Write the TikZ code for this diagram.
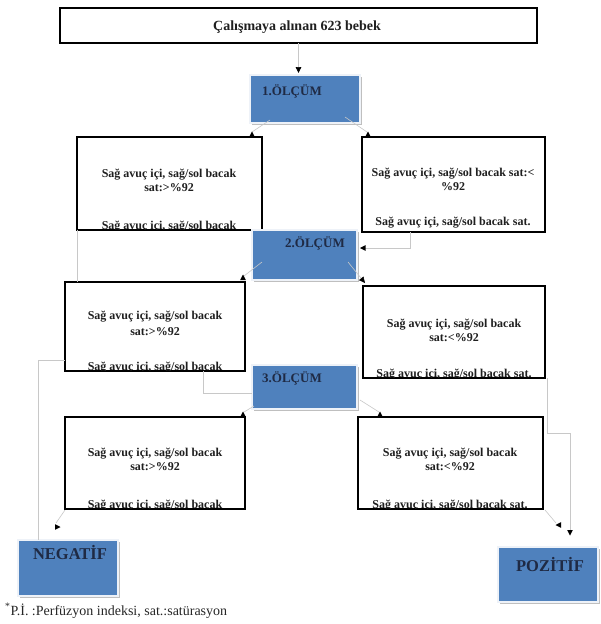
\documentclass[tikz,border=0pt]{standalone}
\usepackage{fontspec}
\setmainfont{Liberation Serif}
\usetikzlibrary{arrows.meta,shadows,calc}
\definecolor{ofblue}{HTML}{4F81BD}
\definecolor{oftext}{HTML}{1F2A44}
\definecolor{faint}{HTML}{C8C8C8}
\definecolor{bframe}{HTML}{EEF2F8}
\begin{document}
\begin{tikzpicture}[x=1pt,y=-1pt,
  wbox/.style={draw=black, line width=1.4pt, fill=white, inner sep=0pt, outer sep=0pt, anchor=north west,
     drop shadow={shadow xshift=1.4pt, shadow yshift=-1.4pt, fill=black!70, opacity=1}},
  bbox/.style={draw=bframe, line width=2.6pt, fill=ofblue, inner sep=0pt, outer sep=0pt, anchor=north west,
     drop shadow={shadow xshift=1.6pt, shadow yshift=-1.6pt, fill=black!25, opacity=1}},
  btxt/.style={font=\fontsize{12}{14}\selectfont\bfseries, text=black!88, inner sep=0pt, anchor=base},
  mtxt/.style={font=\fontsize{13}{15}\selectfont\bfseries, text=oftext, inner sep=0pt, anchor=base west},
  rtxt/.style={font=\fontsize{16.5}{18}\selectfont\bfseries, text=oftext, inner sep=0pt, anchor=base},
  ftxt/.style={font=\fontsize{14}{16}\selectfont, text=black!85, inner sep=0pt, anchor=base west},
  faintline/.style={draw=faint, line width=0.6pt},
  tipup/.pic={\fill[black] (-2.8,0) -- (2.8,0) -- (0,-5.5) -- cycle;},
  tipdown/.pic={\fill[black] (-2.8,0) -- (2.8,0) -- (0,5.5) -- cycle;},
  tipleft/.pic={\fill[black] (0,-2.8) -- (0,2.8) -- (-5.5,0) -- cycle;},
  tipright/.pic={\fill[black] (0,-2.8) -- (0,2.8) -- (5.5,0) -- cycle;},
]
\useasboundingbox[fill=white] (0,0) rectangle (600,624);

% white boxes
\node[wbox, minimum width=477pt, minimum height=35pt] (top) at (60,8) {};
\node[wbox, minimum width=185pt, minimum height=93pt] (L1) at (77,137) {};
\node[wbox, minimum width=183pt, minimum height=95pt] (R1) at (362,137) {};
\node[wbox, minimum width=180pt, minimum height=89pt] (L2) at (65,282) {};
\node[wbox, minimum width=182pt, minimum height=92pt] (R2) at (363,286) {};
\node[wbox, minimum width=180pt, minimum height=92pt] (L3) at (65,417) {};
\node[wbox, minimum width=185pt, minimum height=92pt] (R3) at (358,417) {};

% texts in white boxes
\node[btxt, font=\fontsize{14}{16}\selectfont\bfseries] (topt) at (297,30) {Çalışmaya alınan 623 bebek};

\node[btxt] (L1a) at (169,177) {Sağ avuç içi, sağ/sol bacak};
\node[btxt] (L1b) at (169,191) {sat:>\%92};
\begin{scope}
\clip (77,137) rectangle (262,229);
\node[btxt] (L1c) at (169,229) {Sağ avuç içi, sağ/sol bacak};
\end{scope}

\node[btxt] (R1a) at (453,176) {Sağ avuç içi, sağ/sol bacak sat:<};
\node[btxt] (R1b) at (453,190) {\%92};
\node[btxt] (R1c) at (453,225) {Sağ avuç içi, sağ/sol bacak sat.};

\node[btxt] (L2a) at (155,319) {Sağ avuç içi, sağ/sol bacak};
\node[btxt] (L2b) at (155,335) {sat:>\%92};
\begin{scope}
\clip (65,282) rectangle (245,370);
\node[btxt] (L2c) at (155,370) {Sağ avuç içi, sağ/sol bacak};
\end{scope}

\node[btxt] (R2a) at (454,327) {Sağ avuç içi, sağ/sol bacak};
\node[btxt] (R2b) at (454,341) {sat:<\%92};
\begin{scope}
\clip (363,286) rectangle (545,377);
\node[btxt] (R2c) at (454,377) {Sağ avuç içi, sağ/sol bacak sat.};
\end{scope}

\node[btxt] (L3a) at (155,456) {Sağ avuç içi, sağ/sol bacak};
\node[btxt] (L3b) at (155,470) {sat:>\%92};
\begin{scope}
\clip (65,417) rectangle (245,508);
\node[btxt] (L3c) at (155,508) {Sağ avuç içi, sağ/sol bacak};
\end{scope}

\node[btxt] (R3a) at (450,456) {Sağ avuç içi, sağ/sol bacak};
\node[btxt] (R3b) at (450,470) {sat:<\%92};
\begin{scope}
\clip (358,417) rectangle (543,508);
\node[btxt] (R3c) at (450,508) {Sağ avuç içi, sağ/sol bacak sat.};
\end{scope}

% blue boxes
\node[bbox, minimum width=110pt, minimum height=48pt] (O1) at (250,75) {};
\node[bbox, minimum width=105pt, minimum height=50pt] (O2) at (252,230) {};
\node[bbox, minimum width=105pt, minimum height=44pt] (O3) at (252,365) {};
\node[bbox, minimum width=100pt, minimum height=56pt] (NEG) at (18,540) {};
\node[bbox, minimum width=100pt, minimum height=55pt] (POZ) at (498,547) {};

\node[mtxt] (O1t) at (262,95) {1.ÖLÇÜM};
\node[mtxt] (O2t) at (285,247) {2.ÖLÇÜM};
\node[mtxt] (O3t) at (262,382) {3.ÖLÇÜM};
\node[rtxt] (NEGt) at (70,559) {NEGATİF};
\node[rtxt] (POZt) at (550,571) {POZİTİF};

\node[ftxt] (foot) at (5,615) {\textsuperscript{*}P.İ. :Perfüzyon indeksi, sat.:satürasyon};

% connectors
\draw[faintline, -{Triangle[length=6pt,width=5.6pt,color=black]}] (top.south) -- ($(top.south |- O1.north)+(0,-2)$);
\coordinate (b0) at (270,120); \coordinate (b1) at (252,132);
\draw[faintline] (b0) -- (b1);
\coordinate (c0) at (345,117); \coordinate (c1) at (367,132);
\draw[faintline] (c0) -- (c1);
\coordinate (d0) at (410,232); \coordinate (d1) at (410,248); \coordinate (d2) at (365,248);
\draw[faintline] (d0) -- (d1) -- (d2);
\draw[faintline] (77,230) -- (L2.north west -| 77,0);
\coordinate (f0) at (262,262); \coordinate (f1) at (244,276);
\draw[faintline] (f0) -- (f1);
\coordinate (g0) at (348,262);
\draw[faintline, -{Triangle[length=6pt,width=5.6pt,color=black]}] (g0) -- (365,283);
\coordinate (h0) at (65,360); \coordinate (h1) at (38,360);
\draw[faintline] (h0) -- (h1) -- (h1 |- NEG.north);
\coordinate (i0) at (203,371); \coordinate (i1) at (203,393);
\draw[faintline] (i0) -- (i1) -- (i1 -| O3.west);
\coordinate (j0) at (254,406); \coordinate (j1) at (244,412);
\draw[faintline] (j0) -- (j1);
\coordinate (k0) at (360,400); \coordinate (k1) at (379,412);
\draw[faintline] (k0) -- (k1);
\coordinate (l0) at (547,378); \coordinate (l1) at (547,433); \coordinate (l2) at (570,433); \coordinate (l3) at (570,530);
\draw[faintline] (l0) -- (l1) -- (l2) -- (l3);
\coordinate (m0) at (545,510); \coordinate (m1) at (556,523);
\draw[faintline] (m0) -- (m1);
\coordinate (n0) at (65,510); \coordinate (n1) at (56,523);
\draw[faintline] (n0) -- (n1);

% arrow tips as drawn in the figure
\pic at (252,137) {tipup};
\pic at (368,137) {tipup};
\pic at (365.5,248) {tipleft};
\pic at (243,280) {tipup};
\pic at (243,417) {tipup};
\pic at (380,417) {tipup};
\pic at (570,530) {tipdown};
\pic at (561,525) {tipleft};
\pic at (55,527) {tipright};
\end{tikzpicture}
\end{document}
